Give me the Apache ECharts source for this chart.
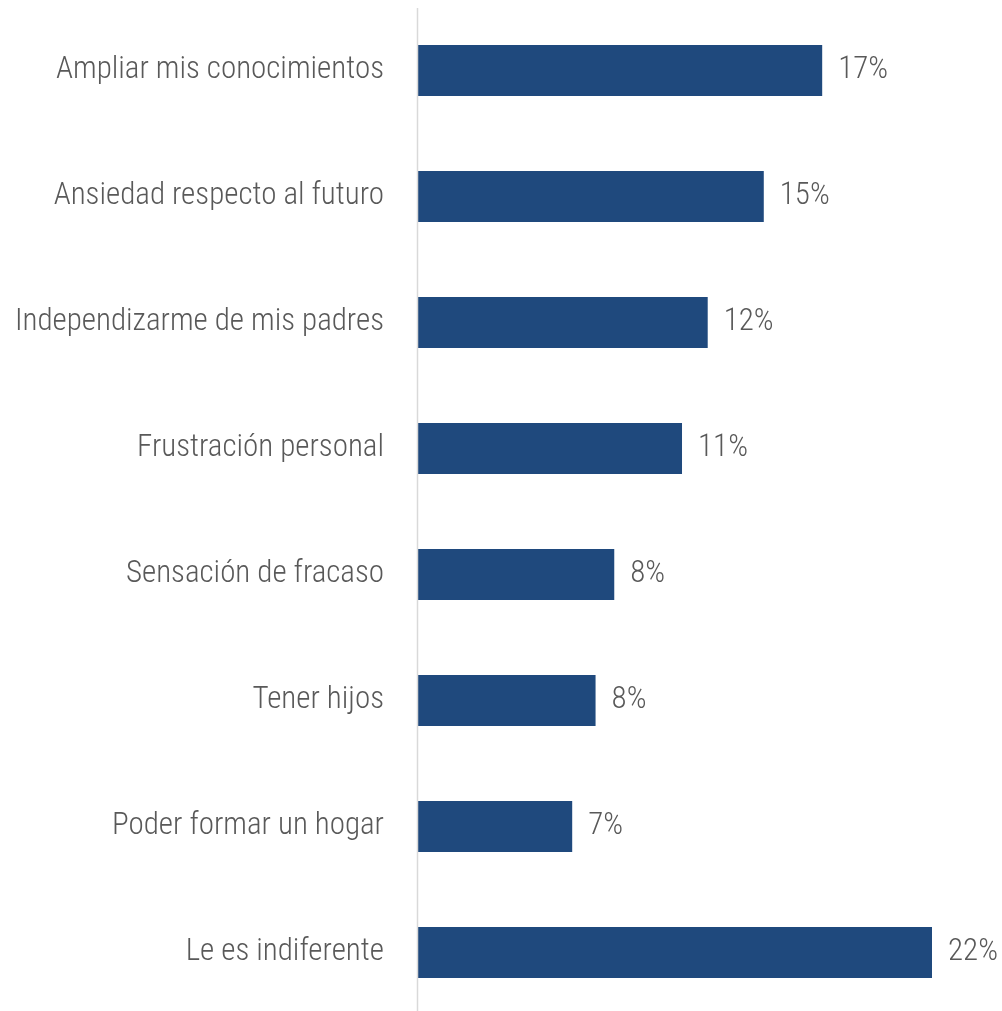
<!DOCTYPE html>
<html><head><meta charset="utf-8">
<script src="https://cdn.jsdelivr.net/npm/echarts@6/dist/echarts.min.js"></script>
<style>html,body{margin:0;padding:0;background:#fff}#c{width:1002px;height:1011px}</style>
</head><body><div id="c"></div>
<script>
const categories = ["Ampliar mis conocimientos","Ansiedad respecto al futuro","Independizarme de mis padres","Frustración personal","Sensación de fracaso","Tener hijos","Poder formar un hogar","Le es indiferente"];
const values = [17.3, 14.8, 12.4, 11.3, 8.4, 7.6, 6.6, 22.0];
const FONT = "'Roboto Condensed', 'Liberation Sans Narrow', sans-serif";
const chart = echarts.init(document.getElementById('c'));
chart.setOption({
  animation: false,
  grid: {left: 418, right: 70, top: 70.5, height: 882, containLabel: false},
  xAxis: {type: 'value', min: 0, max: 22, show: false},
  yAxis: {type: 'category', inverse: true, data: categories, boundaryGap: false,
    axisLine: {show: false},
    axisTick: {show: false},
    axisLabel: {color: '#595959', fontSize: 31, fontWeight: 300, fontFamily: FONT, margin: 34, padding: [5, 0, 0, 0]}},
  graphic: [{type: 'line', z: 10, shape: {x1: 417.5, y1: 8, x2: 417.5, y2: 1011}, style: {stroke: '#D9D9D9', lineWidth: 1.5}}],
  series: [{type: 'bar', data: values, barWidth: 51, itemStyle: {color: '#1F497D'},
    label: {show: true, position: 'right', distance: 16, color: '#595959', fontSize: 31, fontWeight: 300, fontFamily: FONT,
      padding: [5, 0, 0, 0], formatter: p => Math.round(p.value) + '%'}}]
});
</script></body></html>
